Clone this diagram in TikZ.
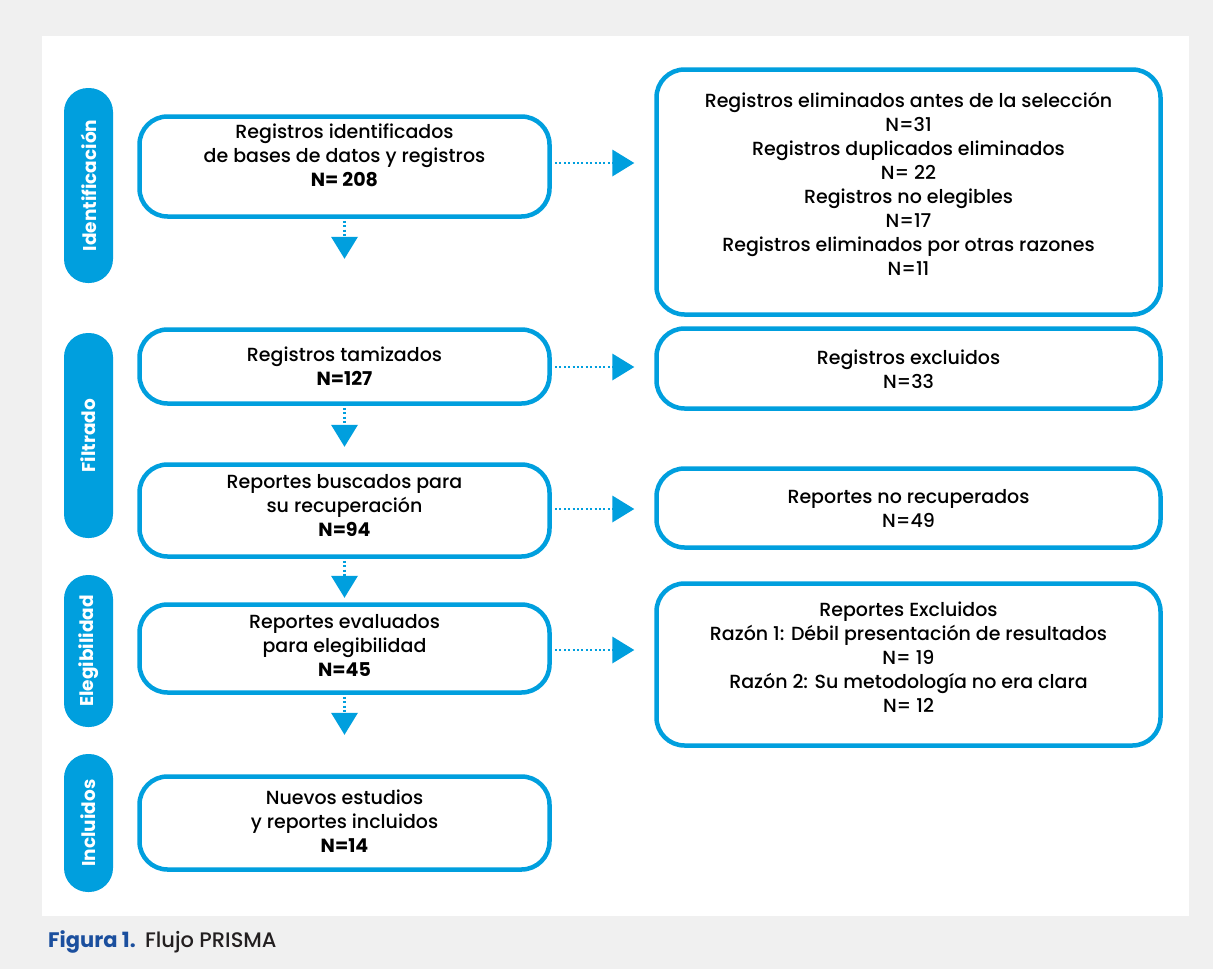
\documentclass[tikz,border=0pt]{standalone}
\usepackage{fontspec}
\setmainfont{Poppins}[UprightFont={* Medium}, BoldFont={* Bold}]
\usetikzlibrary{arrows.meta,calc}
\definecolor{prblue}{HTML}{009FDE}
\definecolor{bggray}{HTML}{F0F0F0}
\definecolor{capblue}{HTML}{1B4F9E}
\definecolor{captext}{HTML}{231F20}
\tikzset{
  box/.style={draw=prblue, line width=4.5pt, rounded corners=28pt, fill=white, inner sep=0pt},
  lbox/.style={box, minimum width=410pt},
  rbox/.style={box, minimum width=504pt},
  txt/.style={align=center, font=\fontsize{19}{24}\selectfont, text=black, inner sep=0pt},
  pill/.style={fill=prblue, rounded corners=24pt, minimum width=49pt, inner sep=0pt},
  pilltxt/.style={rotate=90, text=white, font=\fontsize{18.5}{20}\selectfont\bfseries, inner sep=0pt},
  flow/.style={draw=prblue, line width=2.3pt, dash pattern=on 2pt off 2.4pt,
    -{Triangle[length=22pt,width=27pt,line width=0pt]}},
}
\begin{document}
\begin{tikzpicture}[x=1pt,y=-1pt]
\useasboundingbox (0,0) rectangle (1213,969);
\fill[bggray] (0,0) rectangle (1213,969);
\fill[white] (42,36) rectangle (1189,916);

% phase pills
\node[pill, minimum height=195pt] (p1) at (88.5,185.5) {};
\node[pilltxt] (p1t) at (p1.center) {Identificación};
\node[pill, minimum height=205pt] (p2) at (88.5,435.5) {};
\node[pilltxt] (p2t) at (p2.center) {Filtrado};
\node[pill, minimum height=152pt] (p3) at (88.5,651) {};
\node[pilltxt] (p3t) at (p3.center) {Elegibilidad};
\node[pill, minimum height=138pt] (p4) at (88.5,823) {};
\node[pilltxt] (p4t) at (p4.center) {Incluidos};

% left column
\node[lbox, minimum height=100pt] (b1) at (344.5,166.5) {};
\node[txt] (b1t) at (344.5,155) {Registros identificados\\de bases de datos y registros\\\textbf{N= 208}};
\node[lbox, minimum height=74pt] (b2) at (344.5,366.5) {};
\node[txt] (b2t) at (344.5,366) {Registros tamizados\\\textbf{N=127}};
\node[lbox, minimum height=92pt] (b3) at (344.5,510.5) {};
\node[txt] (b3t) at (344.5,505) {Reportes buscados para\\su recuperación\\\textbf{N=94}};
\node[lbox, minimum height=88pt] (b4) at (344.5,648.5) {};
\node[txt] (b4t) at (344.5,645) {Reportes evaluados\\para elegibilidad\\\textbf{N=45}};
\node[lbox, minimum height=93pt] (b5) at (344.5,823) {};
\node[txt] (b5t) at (344.5,821) {Nuevos estudios\\y reportes incluidos\\\textbf{N=14}};

% right column
\node[rbox, minimum height=245pt] (r1) at (908.5,192) {};
\node[txt] (r1t) at (908.5,184) {Registros eliminados antes de la selección\\N=31\\Registros duplicados eliminados\\N= 22\\Registros no elegibles\\N=17\\Registros eliminados por otras razones\\N=11};
\node[rbox, minimum height=80pt] (r2) at (908.5,368.5) {};
\node[txt] (r2t) at (908.5,369) {Registros excluidos\\N=33};
\node[rbox, minimum height=79pt] (r3) at (908.5,508) {};
\node[txt] (r3t) at (908.5,508) {Reportes no recuperados\\N=49};
\node[rbox, minimum height=162pt] (r4) at (908.5,664.5) {};
\node[txt] (r4t) at (908.5,657) {Reportes Excluidos\\Razón 1: Débil presentación de resultados\\N= 19\\Razón 2: Su metodología no era clara\\N= 12};

% horizontal arrows
\coordinate (h1) at (555,163);
\coordinate (h2) at (555,367);
\coordinate (h3) at (555,509);
\coordinate (h4) at (555,650);
\draw[flow, shorten >=20pt] (h1) -- (h1 -| r1.west);
\draw[flow, shorten >=20pt] (h2) -- (h2 -| r2.west);
\draw[flow, shorten >=20pt] (h3) -- (h3 -| r3.west);
\draw[flow, shorten >=20pt] (h4) -- (h4 -| r4.west);

% vertical arrows
\draw[flow, shorten <=2pt] (b1.south) -- ++(0,40);
\draw[flow, shorten <=2pt] (b2.south) -- ++(0,41);
\draw[flow, shorten <=2pt] (b3.south) -- ++(0,39);
\draw[flow, shorten <=2pt] (b4.south) -- ++(0,40);

% caption
\node[anchor=base west, inner sep=0pt, font=\fontsize{21}{24}\selectfont, text=captext] (cap) at (48,947)
  {\textcolor{capblue}{\bfseries Figura 1.}\hspace{2pt} Flujo PRISMA};
\end{tikzpicture}
\end{document}
